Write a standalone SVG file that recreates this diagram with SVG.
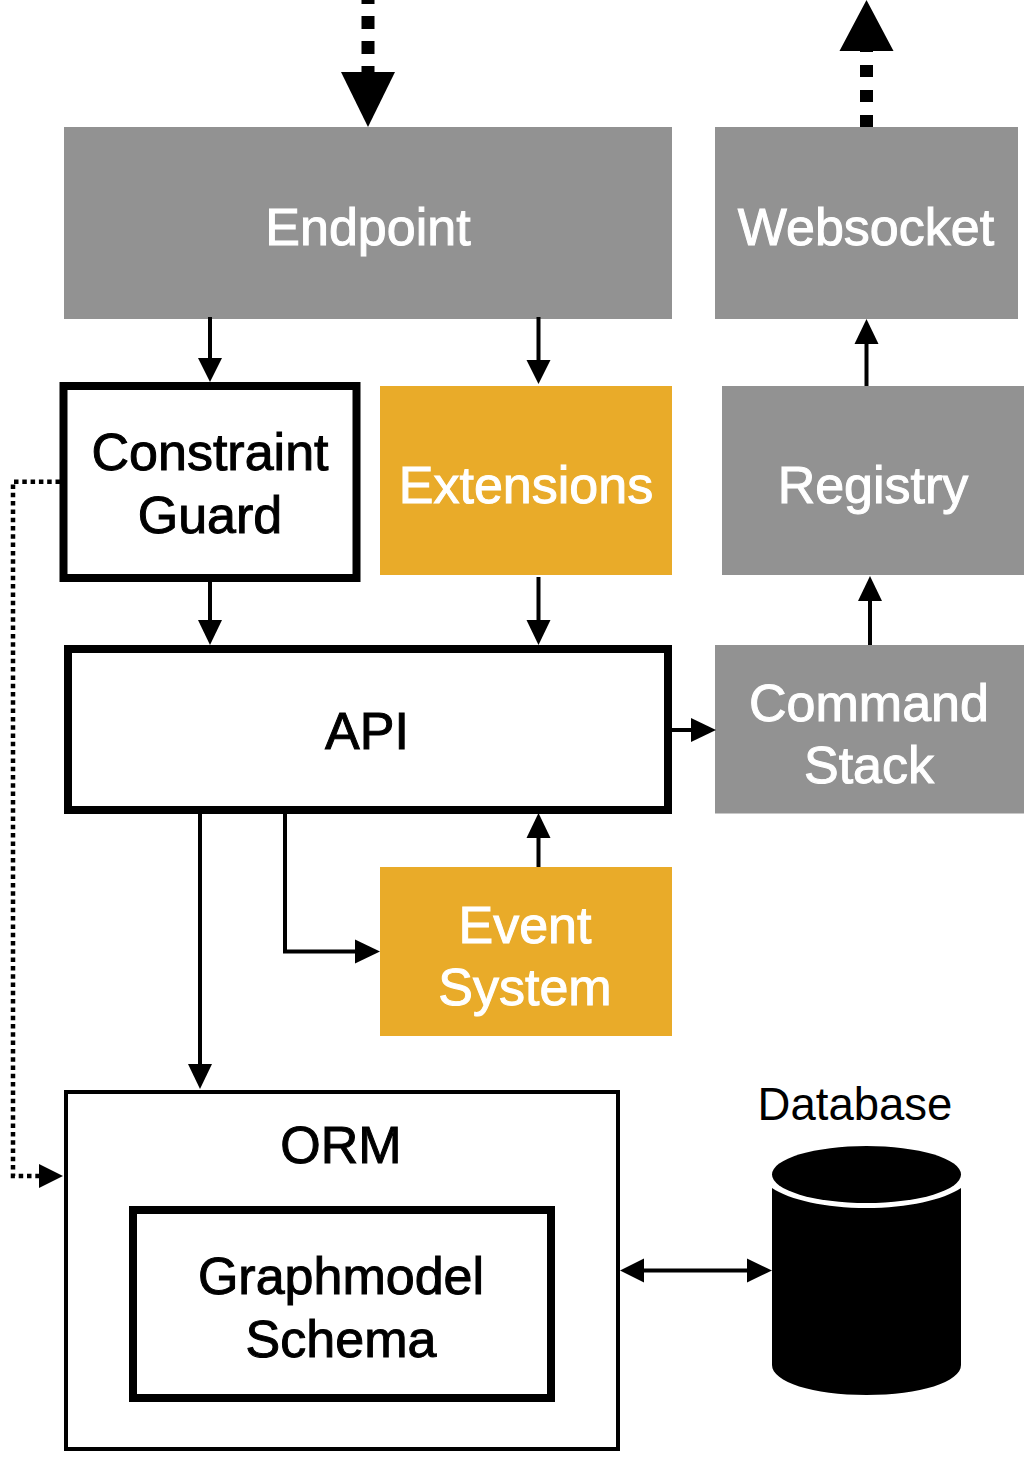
<svg xmlns="http://www.w3.org/2000/svg" width="1033" height="1464" viewBox="0 0 1033 1464">
<defs>
<style>
text{font-family:"Liberation Sans",Arial,sans-serif;font-size:52px;text-anchor:middle;fill:#000;stroke:#000;stroke-width:1}
text.lt{fill:#fff;stroke:#fff}
text.plain{font-size:45.500px;stroke:none}
.g{fill:#929292}
.o{fill:#e9ab29}
.b{fill:#fff;stroke:#000;stroke-width:8}
.c{fill:none;stroke:#000;stroke-width:4}
.h{fill:#000;stroke:none}
</style>
</defs>
<rect width="1033" height="1464" fill="#fff"/>
<g id="endpoint"><rect class="g" x="64" y="127" width="608" height="192"/><text class="lt" x="368" y="245">Endpoint</text></g>
<g id="websocket"><rect class="g" x="715" y="127" width="303" height="192"/><text class="lt" x="866" y="245">Websocket</text></g>
<g id="constraint-guard"><rect class="b" x="63.500" y="386" width="293" height="192"/><text x="210" y="470">Constraint</text><text x="210" y="533">Guard</text></g>
<g id="extensions"><rect class="o" x="380" y="386" width="292" height="189"/><text class="lt" x="526" y="503">Extensions</text></g>
<g id="registry"><rect class="g" x="722" y="386" width="302" height="189"/><text class="lt" x="873" y="503">Registry</text></g>
<g id="api"><rect class="b" x="68" y="649" width="600" height="161"/><text x="367" y="749">API</text></g>
<g id="command-stack"><rect class="g" x="715" y="645" width="309" height="168.500"/><text class="lt" x="869" y="721">Command</text><text class="lt" x="869" y="783">Stack</text></g>
<g id="event-system"><rect class="o" x="380" y="867" width="292" height="169"/><text class="lt" x="525" y="943">Event</text><text class="lt" x="525" y="1005">System</text></g>
<g id="orm"><rect x="66" y="1092" width="552" height="357" fill="#fff" stroke="#000" stroke-width="4"/><text x="341" y="1163">ORM</text></g>
<g id="graphmodel-schema"><rect class="b" x="133" y="1210" width="418" height="188"/><text x="341" y="1294">Graphmodel</text><text x="341" y="1357">Schema</text></g>
<g id="database"><text class="plain" x="855" y="1120">Database</text>
<path class="h" d="M772 1188C790 1200 825 1208 866.500 1208C908 1208 943 1200 961 1188V1365C961 1382 920 1395 866.500 1395C813 1395 772 1382 772 1365Z"/>
<ellipse class="h" cx="866.500" cy="1174.500" rx="94.500" ry="28.500"/></g>
<g id="connectors">
<path d="M368 0V75" fill="none" stroke="#000" stroke-width="13" stroke-dasharray="13 12" stroke-dashoffset="9"/>
<path class="h" d="M341 72H395L368 127Z"/>
<path d="M866.500 127V48" fill="none" stroke="#000" stroke-width="13" stroke-dasharray="12 13"/>
<path class="h" d="M839.500 51H893.500L866.500 0Z"/>
<path class="c" d="M210 317V360"/><path class="h" d="M198 358H222L210 382Z"/>
<path class="c" d="M538.500 317V362"/><path class="h" d="M526.500 360H550.500L538.500 384Z"/>
<path class="c" d="M210 578V622"/><path class="h" d="M198 620H222L210 645Z"/>
<path class="c" d="M538.500 577V622"/><path class="h" d="M526.500 620H550.500L538.500 645Z"/>
<path class="c" d="M866.500 386V343"/><path class="h" d="M854.500 344H878.500L866.500 319Z"/>
<path class="c" d="M870 645V599"/><path class="h" d="M858 601H882L870 576Z"/>
<path class="c" d="M670 730H693"/><path class="h" d="M691 718V742L716 730Z"/>
<path class="c" d="M538.500 867V836"/><path class="h" d="M526.500 838H550.500L538.500 813Z"/>
<path class="c" d="M200 812V1066"/><path class="h" d="M188 1064H212L200 1089Z"/>
<path class="c" d="M285 812V951.500H357"/><path class="h" d="M355 939.500V963.500L380 951.500Z"/>
<path class="c" d="M642 1270.500H750"/><path class="h" d="M644 1258.500V1282.500L620 1270.500Z"/><path class="h" d="M747 1258.500V1282.500L772 1270.500Z"/>
<path d="M60 481.700H13V1176H41" fill="none" stroke="#000" stroke-width="4.500" stroke-dasharray="4.500 3.800"/>
<path class="h" d="M39 1164V1188L63 1176Z"/>
</g>
</svg>
